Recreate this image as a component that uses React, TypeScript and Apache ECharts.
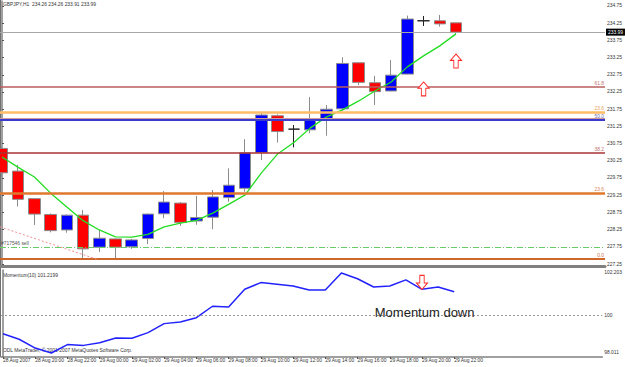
import React, { useEffect, useRef } from "react";
import * as echarts from "echarts";

// ---------- data ----------
const chartTitle = "GBPJPY,H1  234.26 234.26 233.91 233.99";
const indicatorTitle = "Momentum(10) 101.2199";
const footerText = "ODL MetaTrader, © 2001-2007 MetaQuotes Software Corp.";

const bars = [0, 1, 2, 3, 4, 5, 6, 7, 8, 9, 10, 11, 12, 13, 14, 15, 16, 17, 18, 19, 20, 21, 22, 23, 24, 25, 26, 27, 28];
const opens = [230.61, 229.95, 229.15, 228.69, 228.24, 228.67, 227.74, 227.98, 227.75, 227.99, 228.71, 229.02, 228.5, 228.61, 229.18, 229.45, 230.49, 231.56, 231.17, 231.15, 231.44, 231.76, 233.1, 232.52, 232.28, 232.77, 234.32, 234.32, 234.26];
const closes = [229.9, 229.13, 228.7, 228.22, 228.67, 227.69, 228.0, 227.74, 227.95, 228.7, 229.05, 228.46, 228.6, 229.2, 229.54, 230.48, 231.58, 231.1, 231.17, 231.44, 231.75, 233.08, 232.53, 232.26, 232.74, 234.37, 234.32, 234.23, 233.99];
const lows = [229.78, 228.92, 228.38, 228.17, 228.16, 227.37, 227.6, 227.37, 227.69, 227.83, 228.58, 228.36, 228.39, 228.26, 229.06, 229.35, 230.27, 230.78, 230.64, 231.05, 230.98, 231.7, 232.45, 231.87, 232.27, 232.76, 234.17, 234.15, 233.91];
const highs = [230.65, 230.13, 229.16, 228.72, 228.69, 228.82, 228.24, 227.99, 227.98, 228.72, 229.37, 229.05, 229.23, 229.4, 230.03, 230.88, 231.66, 231.6, 231.29, 232.1, 231.87, 233.26, 233.11, 232.72, 233.18, 234.47, 234.46, 234.49, 234.26];
const movingAverage = [230.36, 230.06, 229.78, 229.31, 228.91, 228.51, 228.24, 228.04, 228.03, 228.11, 228.33, 228.44, 228.52, 228.73, 228.99, 229.26, 229.9, 230.45, 230.78, 231.2, 231.52, 231.73, 231.99, 232.28, 232.54, 232.98, 233.3, 233.59, 233.94];
const momentum = [99.02, 98.73, 98.27, 98.011, 98.45, 98.41, 98.55, 98.8, 98.78, 99.08, 99.55, 99.64, 99.86, 100.46, 100.42, 101.35, 101.7, 101.61, 101.52, 101.31, 101.31, 102.203, 101.9, 101.47, 101.52, 101.84, 101.35, 101.47, 101.22];

const timeTickBars = [0, 2, 4, 6, 8, 10, 12, 14, 16, 18, 20, 22, 24, 26, 28];
const timeTickLabels = ["28 Aug 2007", "28 Aug 20:00", "28 Aug 22:00", "29 Aug 00:00", "29 Aug 02:00", "29 Aug 04:00", "29 Aug 06:00", "29 Aug 08:00", "29 Aug 10:00", "29 Aug 12:00", "29 Aug 14:00", "29 Aug 16:00", "29 Aug 18:00", "29 Aug 20:00", "29 Aug 22:00"];
const priceTicks = [227.25, 227.75, 228.25, 228.75, 229.25, 229.75, 230.25, 230.75, 231.25, 231.75, 232.25, 232.75, 233.25, 233.75, 234.25, 234.75];
const momentumTicks = [98.011, 100, 102.203];

const bidPrice = 233.99;
const fibLabels = ["61.8", "23.6", "50.0", "38.2", "23.6", "0.0"];
const fibPrices = [232.4, 231.67, 231.44, 230.48, 229.31, 227.4];
const orderLabel = "#717546 sell";
const orderPrice = 227.74;
const trendBars = [-0.12, 5.84];
const trendPrices = [228.33, 227.39];
const upSignalBars = [26, 28];
const upSignalPrices = [232.34, 233.15];
const downSignalBar = 26;
const downSignalMomentum = 101.71;
const momentumNoteBar = 23.07;
const momentumNoteValue = 100.11;
const momentumNote = "Momentum down";

// ---------- styles ----------
const FONT = "Liberation Sans";
const SMALL = 4.9;
const fibColors = ["#b85c5c", "#ffbb66", "#3a3acc", "#a83232", "#e0772e", "#d0662a"];
const fibWidths = [1.5, 2.5, 2, 1.5, 2.5, 2];
const fibLabelColors = ["#c07070", "#e8a060", "#7070b0", "#c07070", "#e08050", "#d07050"];
const ARROW_UP = "path://M5,0L10,5L7,5L7,11L3,11L3,5L0,5Z";
const ARROW_DOWN = "path://M3,0L7,0L7,6L10,6L5,11L0,6L3,6Z";

const X_MIN = -0.1234;
const X_MAX = 37.19;

function buildOption() {
  const candleData = bars.map((i) => [i, opens[i], closes[i], lows[i], highs[i]]);
  const maData = bars.map((i) => [i, movingAverage[i]]);
  const momData = bars.map((i) => [i, momentum[i]]);

  const fibLines = fibPrices.map((p, k) => ({
    yAxis: p,
    lineStyle: { color: fibColors[k], width: fibWidths[k], type: "solid" },
    label: {
      show: true,
      position: "insideEndTop",
      formatter: fibLabels[k],
      color: fibLabelColors[k],
      fontSize: SMALL,
      fontFamily: FONT,
      distance: 1,
    },
  }));

  return {
    animation: false,
    backgroundColor: "#ffffff",
    textStyle: { fontFamily: FONT },
    grid: [
      { left: 0, right: 20, top: 1, height: 265 },
      { left: 0, right: 20, top: 270, height: 87 },
    ],
    xAxis: [
      {
        type: "value",
        gridIndex: 0,
        min: X_MIN,
        max: X_MAX,
        axisLine: { show: true, onZero: false, lineStyle: { color: "#808080", width: 3 } },
        axisTick: { show: false },
        axisLabel: { show: false },
        splitLine: { show: false },
      },
      {
        type: "value",
        gridIndex: 1,
        min: X_MIN,
        max: X_MAX,
        axisLine: { show: true, onZero: false, lineStyle: { color: "#808080", width: 1.5 } },
        axisTick: { show: true, length: 2, lineStyle: { color: "#555" }, customValues: timeTickBars },
        axisLabel: {
          show: true,
          customValues: timeTickBars,
          formatter: (v: number) => timeTickLabels[timeTickBars.indexOf(Math.round(v))] || "",
          align: "left",
          fontSize: SMALL,
          color: "#333",
          margin: 1,
          fontFamily: FONT,
        },
        splitLine: { show: false },
      },
    ],
    yAxis: [
      {
        type: "value",
        gridIndex: 0,
        position: "right",
        min: 227.192,
        max: 234.895,
        axisLine: { show: true, lineStyle: { color: "#808080", width: 1.5 } },
        axisTick: { show: true, length: 2, lineStyle: { color: "#555" }, customValues: priceTicks },
        axisLabel: {
          show: true,
          customValues: priceTicks,
          formatter: (v: number) => v.toFixed(2),
          fontSize: SMALL,
          color: "#333",
          margin: 2,
          fontFamily: FONT,
        },
        splitLine: { show: false },
      },
      {
        type: "value",
        gridIndex: 1,
        position: "right",
        min: 97.801,
        max: 102.36,
        axisLine: { show: true, lineStyle: { color: "#808080", width: 1.5 } },
        axisTick: { show: false },
        axisLabel: {
          show: true,
          customValues: momentumTicks,
          formatter: (v: number) => (Math.abs(v - 100) < 1e-6 ? "100" : v.toFixed(3)),
          fontSize: SMALL,
          color: "#333",
          margin: 2,
          fontFamily: FONT,
        },
        splitLine: { show: false },
      },
    ],
    graphic: [
      { type: "rect", shape: { x: 0, y: 0, width: 1, height: 357 }, style: { fill: "#707070" } },
      { type: "text", left: 3, top: 2, style: { text: chartTitle, fontSize: SMALL, fill: "#333", fontFamily: FONT } },
      { type: "text", left: 3, top: 273, style: { text: indicatorTitle, fontSize: SMALL, fill: "#333", fontFamily: FONT } },
      { type: "text", left: 3, top: 348, style: { text: footerText, fontSize: SMALL, fill: "#333", fontFamily: FONT } },
    ],
    series: [
      {
        type: "candlestick",
        xAxisIndex: 0,
        yAxisIndex: 0,
        barWidth: 12,
        encode: { x: 0, y: [1, 2, 3, 4] },
        data: candleData,
        itemStyle: {
          color: "#0000ff",
          color0: "#ff0000",
          borderColor: "#8c8c8c",
          borderColor0: "#8c8c8c",
          borderColorDoji: "#222",
          borderWidth: 1,
        },
        markLine: {
          silent: true,
          symbol: ["none", "none"],
          animation: false,
          data: [
            ...fibLines,
            {
              yAxis: 231.49,
              lineStyle: { color: "#d09a9a", width: 1, type: "solid" },
              label: { show: false },
            },
            {
              yAxis: orderPrice,
              lineStyle: { color: "#66cc66", width: 1, type: [6, 2, 1, 2] },
              label: {
                show: true,
                position: "insideStartTop",
                formatter: orderLabel,
                color: "#555",
                fontSize: SMALL,
                fontFamily: FONT,
                distance: 1,
              },
            },
            {
              yAxis: bidPrice,
              lineStyle: { color: "#a8a8a8", width: 1, type: "solid" },
              label: {
                show: true,
                position: "end",
                formatter: bidPrice.toFixed(2),
                color: "#fff",
                backgroundColor: "#000",
                padding: [1, 2],
                fontSize: SMALL,
                fontFamily: FONT,
                distance: 1,
              },
            },
            [
              { coord: [trendBars[0], trendPrices[0]], lineStyle: { color: "#f09090", width: 1, type: [2, 2] }, label: { show: false } },
              { coord: [trendBars[1], trendPrices[1]] },
            ],
          ],
        },
        markPoint: {
          silent: true,
          animation: false,
          label: { show: false },
          data: upSignalBars.map((b, k) => ({
            coord: [b, upSignalPrices[k]],
            symbol: ARROW_UP,
            symbolSize: [11, 14],
            itemStyle: { color: "#ffffff", borderColor: "#ff2a2a", borderWidth: 1 },
          })),
        },
        z: 3,
      },
      {
        type: "line",
        xAxisIndex: 0,
        yAxisIndex: 0,
        data: maData,
        showSymbol: false,
        symbol: "none",
        lineStyle: { color: "#22dd22", width: 1.3 },
        z: 4,
      },
      {
        type: "line",
        xAxisIndex: 1,
        yAxisIndex: 1,
        data: momData,
        showSymbol: false,
        symbol: "none",
        lineStyle: { color: "#2222ff", width: 1.5 },
        markLine: {
          silent: true,
          symbol: ["none", "none"],
          animation: false,
          data: [{ yAxis: 100, lineStyle: { color: "#999", width: 1, type: [2, 2] }, label: { show: false } }],
        },
        markPoint: {
          silent: true,
          animation: false,
          data: [
            {
              coord: [downSignalBar, downSignalMomentum],
              symbol: ARROW_DOWN,
              symbolSize: [11, 14],
              itemStyle: { color: "#ffffff", borderColor: "#ff2a2a", borderWidth: 1 },
              label: { show: false },
            },
            {
              coord: [momentumNoteBar, momentumNoteValue],
              symbol: "circle",
              symbolSize: 0,
              itemStyle: { color: "transparent" },
              label: {
                show: true,
                position: "right",
                distance: 0,
                formatter: momentumNote,
                fontSize: 13,
                color: "#222",
                fontFamily: FONT,
              },
            },
          ],
        },
      },
    ],
  };
}

export default function App() {
  const ref = useRef<HTMLDivElement>(null);
  useEffect(() => {
    if (!ref.current) return;
    const chart = echarts.init(ref.current, null, { renderer: "svg" });
    chart.setOption(buildOption() as any);
    return () => chart.dispose();
  }, []);
  return (
    <div
      ref={ref}
      style={{ position: "fixed", left: 0, top: 0, width: 625, height: 367, background: "#fff" }}
    />
  );
}
